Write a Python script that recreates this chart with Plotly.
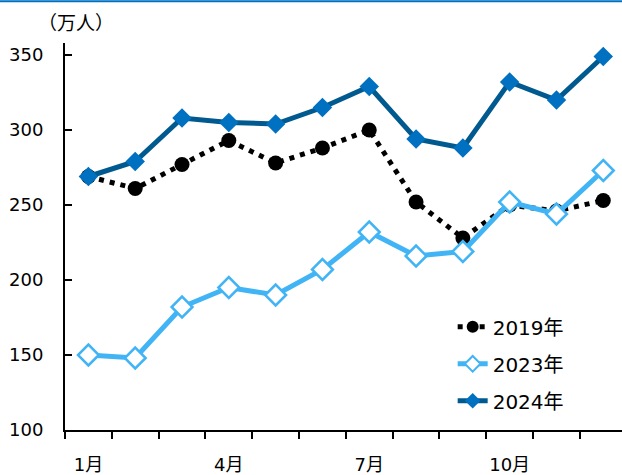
import plotly.graph_objects as go

months = list(range(1, 13))
month_labels = ["1月", "4月", "7月", "10月"]
month_label_pos = [1, 4, 7, 10]
y2019 = [269, 261, 277, 293, 278, 288, 300, 252, 228, 250, 246, 253]
y2023 = [150, 148, 182, 195, 190, 207, 232, 216, 219, 252, 244, 273]
y2024 = [269, 279, 308, 305, 304, 315, 329, 294, 288, 332, 320, 349]
series_names = ["2019年", "2023年", "2024年"]
y_ticks = [100, 150, 200, 250, 300, 350]

FONT = "DejaVu Sans, Verdana, Noto Sans CJK JP, sans-serif"

fig = go.Figure()
fig.add_trace(go.Scatter(
    x=months, y=y2019, name=series_names[0], mode="lines+markers",
    line=dict(color="black", width=5, dash="5px,6px"),
    marker=dict(symbol="circle", size=15, color="black"),
    legendgroup="a"))
fig.add_trace(go.Scatter(
    x=months, y=y2023, name=series_names[1], mode="lines+markers",
    line=dict(color="#41B4F5", width=5),
    marker=dict(symbol="diamond", size=16, color="white",
                line=dict(color="#41B4F5", width=2.5)),
    legendgroup="b"))
fig.add_trace(go.Scatter(
    x=months, y=y2024, name=series_names[2], mode="lines+markers",
    line=dict(color="#005A8F", width=5),
    marker=dict(symbol="diamond", size=15, color="#0070C0"),
    legendgroup="c"))

fig.update_layout(
    width=622, height=475,
    margin=dict(l=65, r=0, t=43, b=41),
    paper_bgcolor="white", plot_bgcolor="white",
    font=dict(family=FONT, size=18, color="black"),
    showlegend=True,
    legend=dict(x=0.696, y=0.317, xanchor="left", yanchor="top",
                bgcolor="rgba(0,0,0,0)", font=dict(size=20),
                traceorder="grouped", tracegroupgap=8,
                itemsizing="constant"),
    xaxis=dict(range=[0.5, 12.4], showgrid=False, zeroline=False,
               showline=True, linecolor="black", linewidth=2,
               tickmode="array", tickvals=month_label_pos, ticktext=month_labels,
               ticks="", ticklabelstandoff=17,
               minor=dict(tickmode="linear", tick0=0.5, dtick=1, ticks="outside",
                          ticklen=7, tickwidth=2, tickcolor="black")),
    yaxis=dict(range=[100, 358], showgrid=False, zeroline=False,
               showline=True, linecolor="black", linewidth=2,
               tickmode="array", tickvals=y_ticks, ticklabelstandoff=16,
               ticks="inside", ticklen=7, tickwidth=2, tickcolor="black"),
    annotations=[dict(text="（万人）", xref="paper", yref="paper",
                      x=-0.052, y=1.0, yshift=22, xanchor="left", yanchor="middle",
                      showarrow=False,
                      font=dict(size=19, family="Noto Sans CJK JP, sans-serif"))],
    shapes=[dict(type="line", xref="paper", yref="paper",
                 x0=-0.2, x1=1.0, y0=1.108, y1=1.108,
                 line=dict(color="#0070C0", width=2))],
)
fig.write_html("out.html", config={"displayModeBar": False},
               post_script="document.body.style.margin='0';")
